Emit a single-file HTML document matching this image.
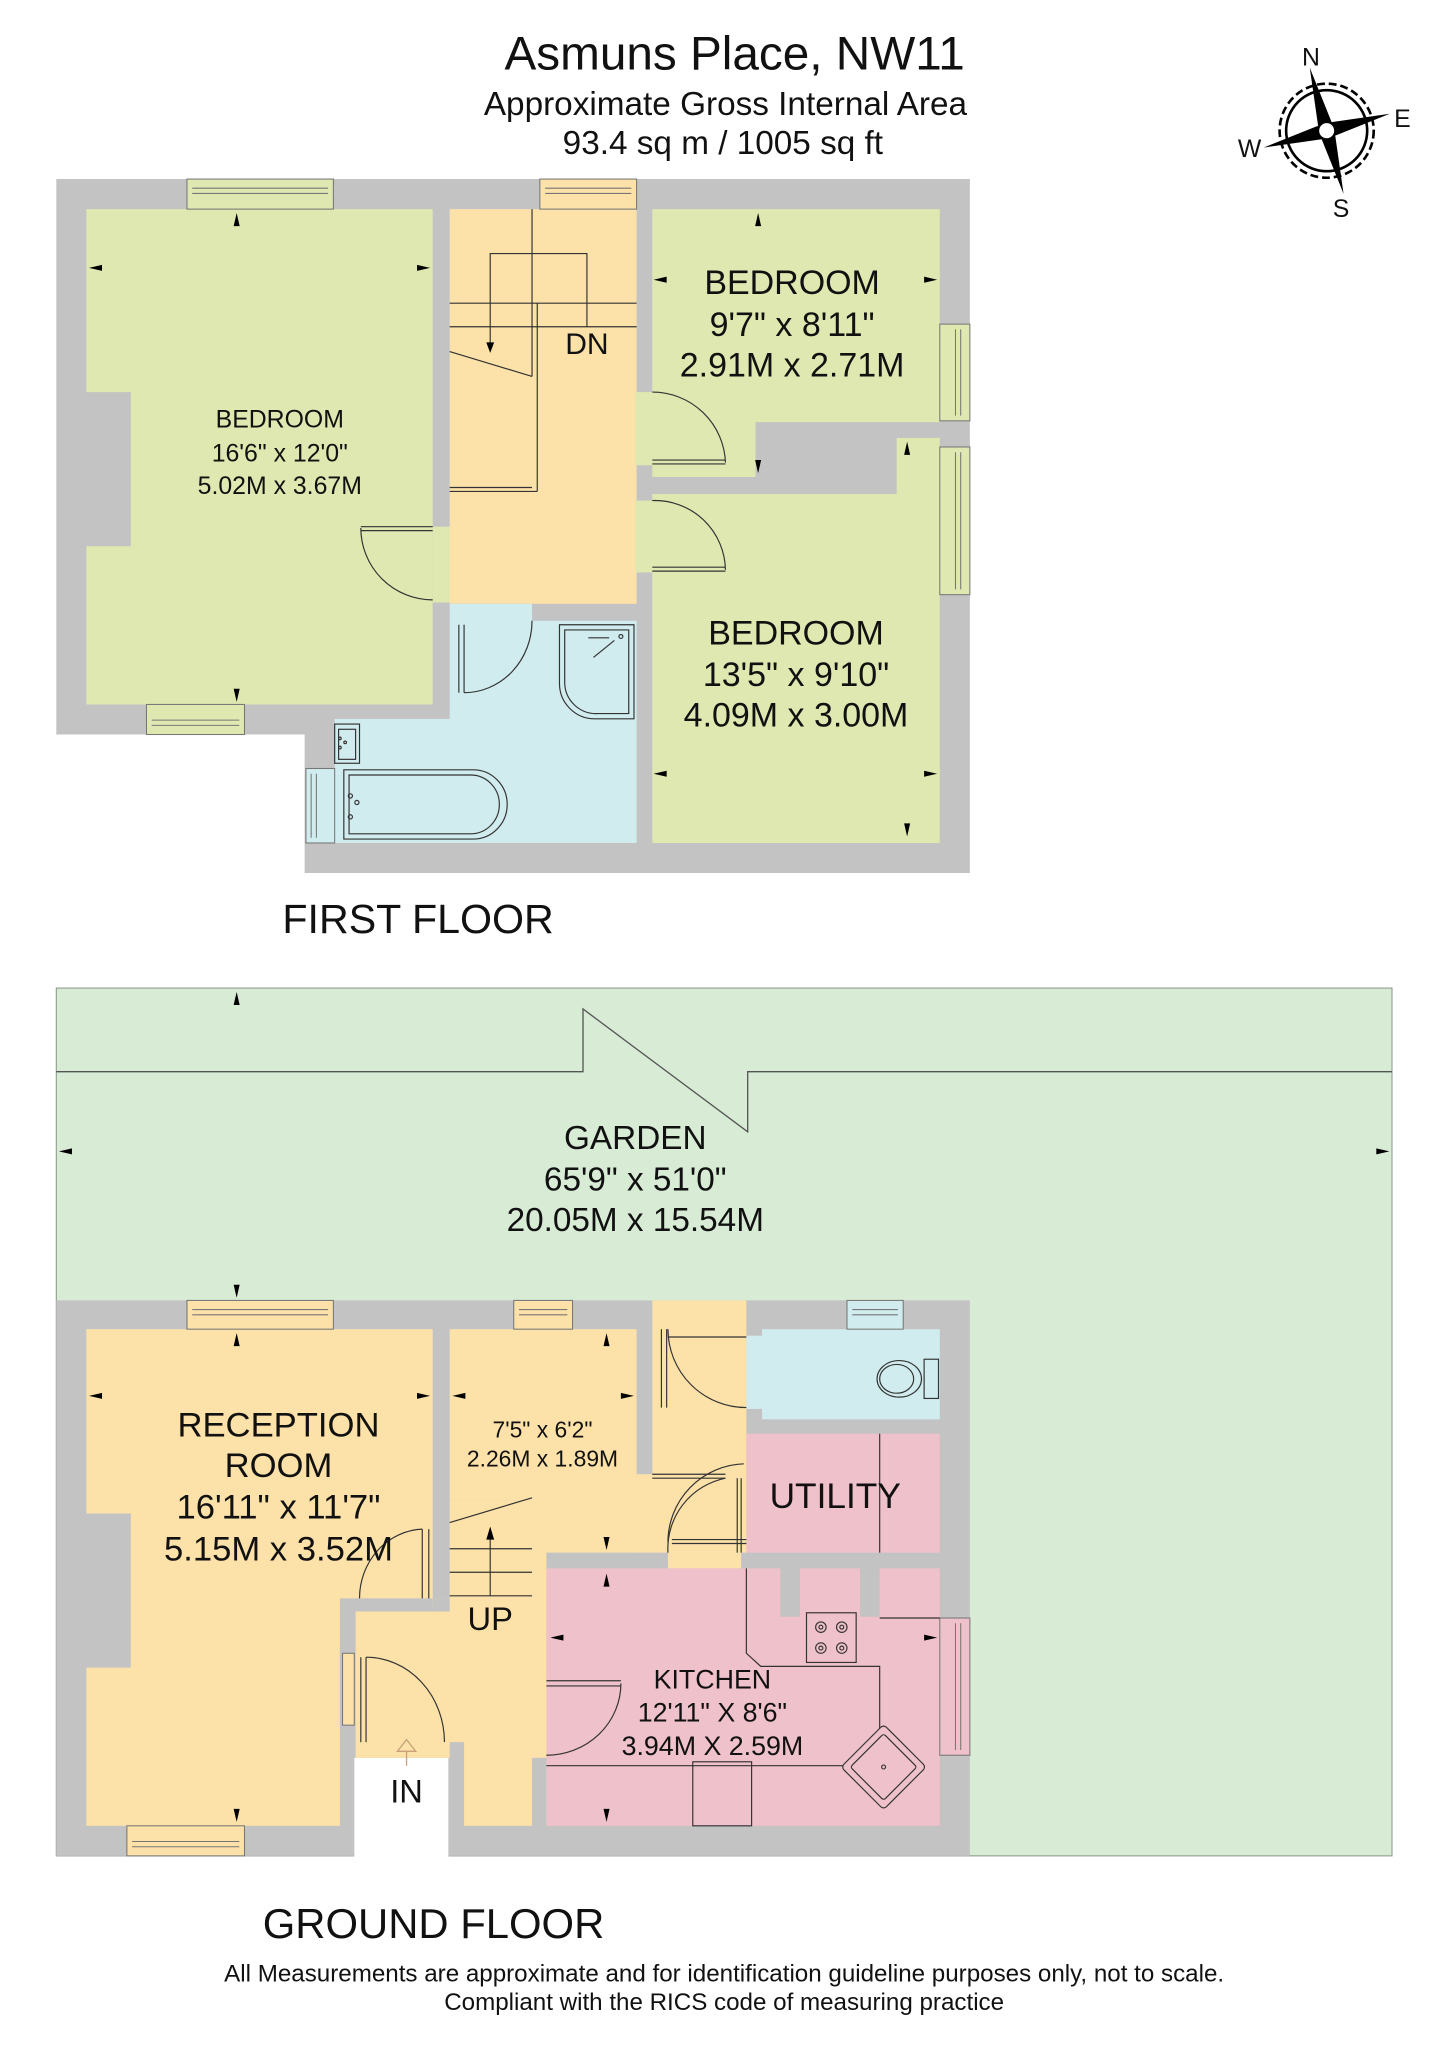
<!DOCTYPE html>
<html><head><meta charset="utf-8"><style>
html,body{margin:0;padding:0;background:#fff}
svg{display:block}
text{font-family:"Liberation Sans",Arial,sans-serif;fill:#111}
</style></head><body>
<svg width="1447" height="2048" viewBox="0 0 1107 1567" xmlns="http://www.w3.org/2000/svg">
<defs>
<path id="a" d="M-2.3,5 L0,-5 L2.3,5Z" fill="#000"/>
</defs>
<rect width="1107" height="1567" fill="#fff"/>

<!-- Titles -->
<text x="562" y="53" font-size="36.5" text-anchor="middle">Asmuns Place, NW11</text>
<text x="555" y="88" font-size="25.5" text-anchor="middle">Approximate Gross Internal Area</text>
<text x="553" y="118" font-size="25.5" text-anchor="middle">93.4 sq m / 1005 sq ft</text>

<!-- Compass -->
<g transform="translate(1015,100)">
<circle r="36" fill="none" stroke="#000" stroke-width="2" stroke-dasharray="6,3"/>
<circle r="31" fill="none" stroke="#000" stroke-width="2"/>
<g transform="rotate(-15)">
<path d="M0,-50 L6,0 L0,50 L-6,0Z M-50,0 L0,-6 L50,0 L0,6Z" fill="#000"/>
</g>
<circle r="6.5" fill="#fff" stroke="#000" stroke-width="1.5"/>
</g>
<text x="1003" y="50" font-size="19" text-anchor="middle">N</text>
<text x="1073" y="97" font-size="19" text-anchor="middle">E</text>
<text x="1026" y="166" font-size="19" text-anchor="middle">S</text>
<text x="956" y="120" font-size="19" text-anchor="middle">W</text>

<!-- ============ FIRST FLOOR ============ -->
<path d="M43,137 H742 V668 H233 V562 H43Z" fill="#c3c3c3"/>
<path d="M66,160 H331 V539 H66 V418 H100 V300 H66Z" fill="#dfe8b1"/>
<rect x="331" y="403" width="14" height="58" fill="#dfe8b1"/>
<rect x="344" y="160" width="143" height="302" fill="#fce1a9"/>
<path d="M499,160 H719 V323 H578 V365 H499Z" fill="#dfe8b1"/>
<rect x="486" y="300" width="14" height="56" fill="#dfe8b1"/>
<path d="M499,378 H686 V335 H719 V645 H499Z" fill="#dfe8b1"/>
<rect x="486" y="383" width="14" height="55" fill="#dfe8b1"/>
<path d="M344,462 H407 V475 H487 V645 H256 V550 H344Z" fill="#d1ecee"/>
<g stroke="#777" stroke-width="0.8">
<rect x="143" y="137" width="112" height="23" fill="#dfe8b1"/>
<line x1="147" y1="144" x2="251" y2="144"/><line x1="147" y1="148" x2="251" y2="148"/>
<rect x="413" y="137" width="74" height="23" fill="#fce1a9"/>
<line x1="417" y1="144" x2="483" y2="144"/><line x1="417" y1="148" x2="483" y2="148"/>
<rect x="112" y="539" width="75" height="23" fill="#dfe8b1"/>
<line x1="116" y1="551" x2="183" y2="551"/><line x1="116" y1="555" x2="183" y2="555"/>
<rect x="719" y="248" width="23" height="74" fill="#dfe8b1"/>
<line x1="731" y1="252" x2="731" y2="318"/><line x1="735" y1="252" x2="735" y2="318"/>
<rect x="719" y="342" width="23" height="113" fill="#dfe8b1"/>
<line x1="731" y1="346" x2="731" y2="451"/><line x1="735" y1="346" x2="735" y2="451"/>
<rect x="234" y="588" width="22" height="57" fill="#d1ecee"/>
<line x1="238" y1="592" x2="238" y2="641"/><line x1="242" y1="592" x2="242" y2="641"/>
</g>
<g stroke="#333" stroke-width="0.9" fill="none">
<line x1="407" y1="160" x2="407" y2="288"/>
<line x1="411" y1="232" x2="411" y2="376"/>
<line x1="344" y1="232" x2="487" y2="232"/>
<line x1="344" y1="250" x2="487" y2="250"/>
<line x1="344" y1="269" x2="407" y2="288"/>
<line x1="344" y1="373" x2="407" y2="373"/>
<line x1="344" y1="376" x2="411" y2="376"/>
<polyline points="375,268 375,194 449,194 449,250"/>
</g>
<path d="M372,262 L375,270 L378,262Z" fill="#000"/>
<text x="449" y="271" font-size="23" text-anchor="middle">DN</text>
<g stroke="#333" stroke-width="0.9" fill="none">
<line x1="276" y1="403" x2="331" y2="403"/><line x1="276" y1="406" x2="331" y2="406"/>
<path d="M276,404 A55,55 0 0 0 331,459"/>
<line x1="499" y1="355" x2="555" y2="355"/><line x1="499" y1="352" x2="555" y2="352"/>
<path d="M555,354 A56,56 0 0 0 499,300"/>
<line x1="499" y1="437" x2="555" y2="437"/><line x1="499" y1="434" x2="555" y2="434"/>
<path d="M555,436 A54,54 0 0 0 499,383"/>
<line x1="351" y1="478" x2="351" y2="530"/><line x1="355" y1="478" x2="355" y2="530"/>
<path d="M407,475 A52,55 0 0 1 355,530"/>
<path d="M428,478 H485 V550 H455 A27,27 0 0 1 428,523Z" fill="#d1ecee"/>
<path d="M432,482 H481 V546 H457 A24,24 0 0 1 432,522Z"/>
<line x1="470" y1="490" x2="454" y2="503"/><line x1="450" y1="488" x2="466" y2="488"/>
<circle cx="475" cy="487" r="1.5"/>
<rect x="256" y="554" width="19" height="30" fill="#d1ecee"/>
<rect x="259" y="558" width="13" height="23"/>
<circle cx="260" cy="565" r="1"/><circle cx="260" cy="572" r="1"/><circle cx="264" cy="568" r="1"/>
<path d="M263,589 H362 A26,26.5 0 0 1 362,642 H263Z"/>
<path d="M267,593 H360 A22,22.5 0 0 1 360,638 H267Z"/>
<circle cx="268" cy="609" r="1.6"/><circle cx="268" cy="625" r="1.6"/><circle cx="273" cy="614" r="1.6"/>
</g>
<use href="#a" transform="translate(181,168)"/>
<use href="#a" transform="translate(181,532) rotate(180)"/>
<use href="#a" transform="translate(73,205) rotate(-90)"/>
<use href="#a" transform="translate(324,205) rotate(90)"/>
<use href="#a" transform="translate(580,168)"/>
<use href="#a" transform="translate(580,357) rotate(180)"/>
<use href="#a" transform="translate(505,214) rotate(-90)"/>
<use href="#a" transform="translate(712,214) rotate(90)"/>
<use href="#a" transform="translate(694,343)"/>
<use href="#a" transform="translate(694,635) rotate(180)"/>
<use href="#a" transform="translate(505,592) rotate(-90)"/>
<use href="#a" transform="translate(712,592) rotate(90)"/>
<g text-anchor="middle">
<text x="214" y="327" font-size="19">BEDROOM</text>
<text x="214" y="353" font-size="19">16'6" x 12'0"</text>
<text x="214" y="378" font-size="19">5.02M x 3.67M</text>
<text x="606" y="225" font-size="26">BEDROOM</text>
<text x="606" y="257" font-size="26">9'7" x 8'11"</text>
<text x="606" y="288" font-size="26">2.91M x 2.71M</text>
<text x="609" y="493" font-size="26">BEDROOM</text>
<text x="609" y="525" font-size="26">13'5" x 9'10"</text>
<text x="609" y="556" font-size="26">4.09M x 3.00M</text>
</g>
<text x="216" y="714" font-size="31.5">FIRST FLOOR</text>

<!-- ============ GROUND FLOOR ============ -->
<rect x="43" y="756" width="1022" height="664" fill="#d7ebd5" stroke="#8a9a8a" stroke-width="0.8"/>
<polyline points="43,820 446,820 446,772 572,866 572,820 1065,820" fill="none" stroke="#555" stroke-width="1"/>
<use href="#a" transform="translate(181,764)"/>
<use href="#a" transform="translate(181,988) rotate(180)"/>
<use href="#a" transform="translate(50,881) rotate(-90)"/>
<use href="#a" transform="translate(1058,881) rotate(90)"/>
<g text-anchor="middle" font-size="25.5">
<text x="486" y="879">GARDEN</text>
<text x="486" y="911">65'9" x 51'0"</text>
<text x="486" y="942">20.05M x 15.54M</text>
</g>

<rect x="271" y="1345" width="72" height="76" fill="#fff"/>
<path d="M43,995 H742 V1420 H343 V1345 H271 V1420 H43Z" fill="#c3c3c3"/>
<path d="M66,1017 H331 V1223 H260 V1397 H66 V1276 H100 V1158 H66Z" fill="#fce1a9"/>
<path d="M344,1017 H487 V1188 H418 V1285 H407 V1148 H344Z" fill="#fce1a9"/>
<path d="M344,1148 H407 V1397 H355 V1333 H344 V1345 H272 V1233 H331 V1223 H344Z" fill="#fce1a9"/>
<rect x="407" y="1285" width="12" height="60" fill="#fce1a9"/>
<rect x="331" y="1223" width="13" height="10" fill="#c3c3c3"/>
<rect x="499" y="995" width="72" height="193" fill="#fce1a9"/>
<rect x="511" y="1186" width="56" height="14" fill="#fce1a9"/>
<rect x="486" y="1128" width="14" height="60" fill="#fce1a9"/>
<rect x="583" y="1017" width="136" height="69" fill="#d1ecee"/>
<rect x="571" y="1022" width="13" height="56" fill="#d1ecee"/>
<rect x="571" y="1097" width="148" height="91" fill="#efc1ca"/>
<path d="M418,1200 H597 V1237 H612 V1200 H658 V1237 H673 V1200 H719 V1397 H418Z" fill="#efc1ca"/>
<g stroke="#777" stroke-width="0.8">
<rect x="143" y="995" width="112" height="22" fill="#fce1a9"/>
<line x1="147" y1="1002" x2="251" y2="1002"/><line x1="147" y1="1006" x2="251" y2="1006"/>
<rect x="393" y="995" width="45" height="22" fill="#fce1a9"/>
<line x1="397" y1="1002" x2="434" y2="1002"/><line x1="397" y1="1006" x2="434" y2="1006"/>
<rect x="648" y="995" width="43" height="22" fill="#d1ecee"/>
<line x1="652" y1="1002" x2="687" y2="1002"/><line x1="652" y1="1006" x2="687" y2="1006"/>
<rect x="97" y="1397" width="90" height="23" fill="#fce1a9"/>
<line x1="101" y1="1409" x2="183" y2="1409"/><line x1="101" y1="1413" x2="183" y2="1413"/>
<rect x="719" y="1238" width="23" height="105" fill="#efc1ca"/>
<line x1="731" y1="1242" x2="731" y2="1339"/><line x1="735" y1="1242" x2="735" y2="1339"/>
<rect x="262" y="1265" width="9" height="55" fill="#fce1a9"/>
</g>
<g stroke="#333" stroke-width="0.9" fill="none">
<line x1="344" y1="1165" x2="407" y2="1146"/>
<line x1="344" y1="1185" x2="407" y2="1185"/>
<line x1="344" y1="1203" x2="407" y2="1203"/>
<line x1="344" y1="1221" x2="407" y2="1221"/>
<line x1="375" y1="1221" x2="375" y2="1170"/>
<line x1="323" y1="1170" x2="323" y2="1223"/><line x1="328" y1="1170" x2="328" y2="1223"/>
<path d="M323,1170 A50,53 0 0 0 275,1223"/>
<line x1="276" y1="1268" x2="276" y2="1333"/><line x1="280" y1="1268" x2="280" y2="1333"/>
<path d="M280,1268 A60,65 0 0 1 340,1333"/>
<line x1="418" y1="1286" x2="475" y2="1286"/><line x1="418" y1="1290" x2="475" y2="1290"/>
<path d="M475,1288 A57,55 0 0 1 418,1343"/>
<line x1="506" y1="1017" x2="506" y2="1077"/><line x1="510" y1="1017" x2="510" y2="1077"/>
<line x1="511" y1="1023" x2="571" y2="1023"/>
<path d="M511,1017 A60,60 0 0 0 571,1077"/>
<line x1="499" y1="1128" x2="555" y2="1128"/><line x1="499" y1="1131" x2="555" y2="1131"/>
<line x1="514" y1="1178" x2="571" y2="1178"/><line x1="514" y1="1181" x2="571" y2="1181"/>
<line x1="564" y1="1131" x2="564" y2="1188"/><line x1="567" y1="1131" x2="567" y2="1188"/>
<path d="M569,1120 A60,60 0 0 0 511,1180"/>
<path d="M555,1131 A55,55 0 0 0 511,1188"/>
<rect x="707" y="1040" width="11" height="30"/>
<ellipse cx="688" cy="1055" rx="17" ry="14" fill="#d1ecee"/>
<ellipse cx="686" cy="1055" rx="13" ry="11"/>
<line x1="673" y1="1097" x2="673" y2="1188"/>
<polyline points="571,1200 571,1265 582,1275 673,1275 673,1351"/>
<line x1="673" y1="1238" x2="719" y2="1238"/>
<line x1="418" y1="1351" x2="673" y2="1351"/>
<rect x="530" y="1348" width="45" height="49"/>
<rect x="617" y="1234" width="38" height="38"/>
<circle cx="628" cy="1245" r="4"/><circle cx="644" cy="1245" r="4"/>
<circle cx="628" cy="1261" r="4"/><circle cx="644" cy="1261" r="4"/>
<circle cx="628" cy="1245" r="1.5"/><circle cx="644" cy="1245" r="1.5"/>
<circle cx="628" cy="1261" r="1.5"/><circle cx="644" cy="1261" r="1.5"/>
<g transform="translate(676,1352) rotate(45)">
<rect x="-23" y="-23" width="46" height="46" rx="3" fill="#efc1ca"/>
<rect x="-18" y="-18" width="36" height="36" rx="2"/>
<circle cx="0" cy="0" r="1.5"/>
</g>
</g>
<path d="M372,1178 L375,1168 L378,1178Z" fill="#000"/>
<path d="M311,1351 V1340 M304,1340 L311,1331 L318,1340Z" stroke="#c9a27a" stroke-width="1" fill="none"/>
<use href="#a" transform="translate(181,1025)"/>
<use href="#a" transform="translate(181,1389) rotate(180)"/>
<use href="#a" transform="translate(73,1068) rotate(-90)"/>
<use href="#a" transform="translate(324,1068) rotate(90)"/>
<use href="#a" transform="translate(464,1025)"/>
<use href="#a" transform="translate(464,1181) rotate(180)"/>
<use href="#a" transform="translate(351,1068) rotate(-90)"/>
<use href="#a" transform="translate(480,1068) rotate(90)"/>
<use href="#a" transform="translate(464,1209)"/>
<use href="#a" transform="translate(464,1389) rotate(180)"/>
<use href="#a" transform="translate(426,1253) rotate(-90)"/>
<use href="#a" transform="translate(712,1253) rotate(90)"/>
<g text-anchor="middle">
<text x="213" y="1099" font-size="26.5">RECEPTION</text>
<text x="213" y="1130" font-size="26.5">ROOM</text>
<text x="213" y="1162" font-size="26.5">16'11" x 11'7"</text>
<text x="213" y="1194" font-size="26.5">5.15M x 3.52M</text>
<text x="415" y="1100" font-size="17.5">7'5" x 6'2"</text>
<text x="415" y="1122" font-size="17.5">2.26M x 1.89M</text>
<text x="639" y="1154" font-size="27">UTILITY</text>
<text x="375" y="1247" font-size="25">UP</text>
<text x="311" y="1379" font-size="25">IN</text>
<text x="545" y="1292" font-size="20.5">KITCHEN</text>
<text x="545" y="1317" font-size="20.5">12'11" X 8'6"</text>
<text x="545" y="1343" font-size="20.5">3.94M X 2.59M</text>
</g>
<text x="201" y="1483" font-size="32">GROUND FLOOR</text>
<text x="554" y="1516" font-size="18.5" text-anchor="middle">All Measurements are approximate and for identification guideline purposes only, not to scale.</text>
<text x="554" y="1538" font-size="18.5" text-anchor="middle">Compliant with the RICS code of measuring practice</text>
</svg>
</body></html>
